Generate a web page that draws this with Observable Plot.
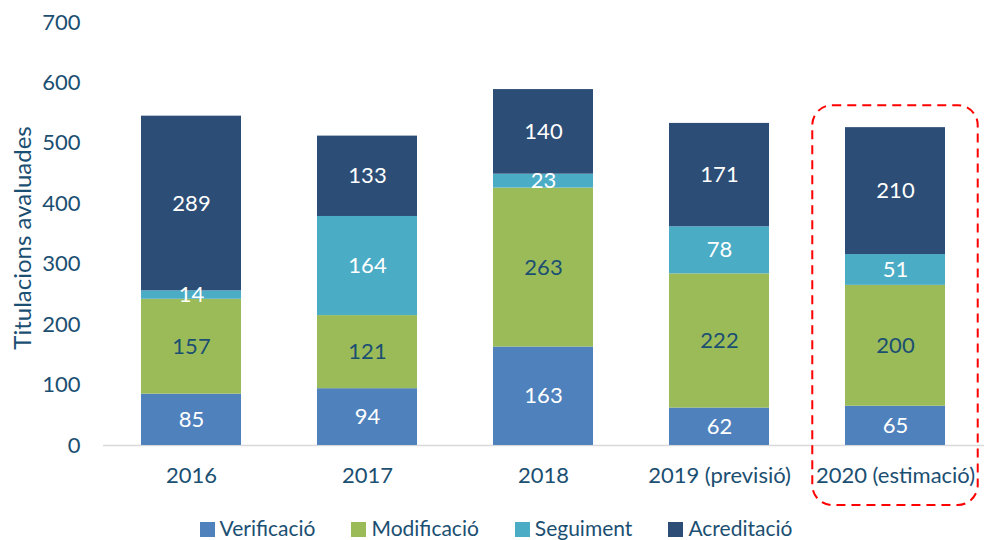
<!DOCTYPE html>
<html>
<head>
<meta charset="utf-8">
<script src="https://cdn.jsdelivr.net/npm/d3@7"></script>
<script src="https://cdn.jsdelivr.net/npm/@observablehq/plot@0.6"></script>
<style>
  body { margin: 0; background: #fff; font-family: Lato, "Open Sans", sans-serif; }
  #legend { display: flex; justify-content: center; gap: 36px; margin-top: 6px; margin-left: 8px;
            font-size: 21px; color: #1b4f72; line-height: 24px; }
  #legend span.sw { display: inline-block; width: 15px; height: 15px; margin-right: 5px; vertical-align: -1px; }
</style>
</head>
<body>
<div id="chart"></div>
<div id="legend"></div>
<script>
const years = ["2016", "2017", "2018", "2019 (previsió)", "2020 (estimació)"];
const seriesNames = ["Verificació", "Modificació", "Seguiment", "Acreditació"];
const verificacio = [85, 94, 163, 62, 65];
const modificacio = [157, 121, 263, 222, 200];
const seguiment = [14, 164, 23, 78, 51];
const acreditacio = [289, 133, 140, 171, 210];
const colors = ["#4f81bd", "#9bbb59", "#4bacc6", "#2c4d75"];
const labelColors = ["#ffffff", "#1b4f72", "#ffffff", "#ffffff"];
const yTicks = [0, 100, 200, 300, 400, 500, 600, 700];
const yTitle = "Titulacions avaluades";
const highlightYear = "2020 (estimació)";

const seriesValues = [verificacio, modificacio, seguiment, acreditacio];
const data = [];
seriesNames.forEach((s, i) => years.forEach((y, j) => data.push({year: y, series: s, value: seriesValues[i][j]})));
const totals = years.map((y, j) => seriesValues.reduce((a, v) => a + v[j], 0));

const textColor = "#1b4f72";
const chart = Plot.plot({
  width: 984,
  height: 510,
  marginTop: 22,
  marginBottom: 65,
  marginLeft: 103,
  marginRight: 0,
  style: {fontFamily: "Lato, 'Open Sans', sans-serif", fontSize: "22px", color: textColor},
  x: {domain: years, paddingInner: 0.43, paddingOuter: 0.215, label: null},
  y: {domain: [0, 700], label: null},
  color: {domain: seriesNames, range: colors},
  marks: [
    Plot.axisX({tickSize: 0, tickPadding: 22, fontSize: 22, label: null}),
    Plot.axisY({ticks: yTicks, tickSize: 0, tickPadding: 23, fontSize: 22, label: null}),
    Plot.text([yTitle], {frameAnchor: "left", textAnchor: "middle", rotate: -90, dx: -80, dy: 4, fontSize: 24, fill: textColor}),
    Plot.ruleY([0], {stroke: "#d9d9d9", strokeWidth: 1.5}),
    Plot.barY(data, {x: "year", y: "value", fill: "series", order: seriesNames}),
    Plot.text(data, Plot.stackY({x: "year", y: "value", z: "series", order: seriesNames, text: "value",
      fill: d => labelColors[seriesNames.indexOf(d.series)], fontSize: 22}))
  ]
});
document.getElementById("chart").appendChild(chart);

// highlight box around the estimated year, positioned via the chart's scales
const xs = chart.scale("x"), ys = chart.scale("y");
const hi = years.indexOf(highlightYear);
const hcx = xs.apply(highlightYear) + xs.bandwidth / 2;
const halfW = xs.step * 0.47;
const hTop = ys.apply(totals[hi]) - 22;
d3.select(chart).append("rect")
  .attr("x", hcx - halfW).attr("y", hTop)
  .attr("width", halfW * 2).attr("height", 505 - hTop)
  .attr("rx", 20).attr("ry", 20)
  .attr("fill", "none").attr("stroke", "#ff0000").attr("stroke-width", 2)
  .attr("stroke-dasharray", "9,6");

const legend = d3.select("#legend");
seriesNames.forEach((s, i) => {
  const item = legend.append("div");
  item.append("span").attr("class", "sw").style("background", colors[i]);
  item.append("span").text(s);
});
</script>
</body>
</html>
